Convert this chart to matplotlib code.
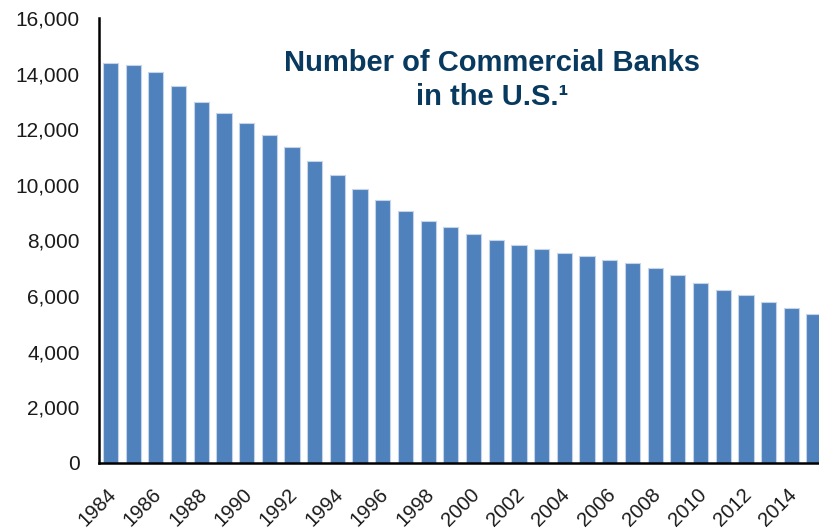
import matplotlib.pyplot as plt
import matplotlib.transforms as mtransforms
import numpy as np

years = list(range(1984, 2016))
banks = [14393, 14298, 14070, 13566, 12991, 12573, 12225, 11793,
         11350, 10870, 10366, 9863, 9456, 9061, 8701, 8496,
         8245, 8018, 7827, 7694, 7561, 7443, 7310, 7202,
         7000, 6760, 6462, 6220, 6030, 5800, 5563, 5357]
tick_years = list(range(1984, 2015, 2))

plt.rcParams['font.family'] = ['Liberation Sans', 'DejaVu Sans']

fig = plt.figure(figsize=(8.19, 5.29), dpi=100)
ax = fig.add_axes([0.121, 0.125, 0.879, 0.841])

x = np.arange(len(years))
ax.bar(x, banks, width=0.67, color='#4F81BD', edgecolor='#c6d4ea', linewidth=0.8)

ax.set_xlim(-0.5, 31.22)
ax.set_ylim(0, 16000)
ax.set_yticks(range(0, 16001, 2000))
ax.set_yticklabels([f'{v:,}' for v in range(0, 16001, 2000)], fontsize=15, color='#1a1a1a')
ax.set_xticks([years.index(y) for y in tick_years])
ax.set_xticklabels([str(y) for y in tick_years], fontsize=14.5, rotation=45,
                   ha='right', va='top', rotation_mode='anchor', color='#1a1a1a')
ax.tick_params(axis='y', length=0, pad=14)
ax.tick_params(axis='x', length=0, pad=16)

# nudge the rotated year labels a little to the left
shift = mtransforms.ScaledTranslation(-4 / 100, 0, fig.dpi_scale_trans)
for lbl in ax.get_xticklabels():
    lbl.set_transform(lbl.get_transform() + shift)

for s in ['top', 'right']:
    ax.spines[s].set_visible(False)
for s in ['left', 'bottom']:
    ax.spines[s].set_linewidth(1.8)
    ax.spines[s].set_color('black')

fig.text(0.601, 0.865, 'Number of Commercial Banks', ha='center', va='baseline',
         fontsize=21, fontweight='bold', color='#08395f')
fig.text(0.601, 0.802, 'in the U.S.¹', ha='center', va='baseline',
         fontsize=21, fontweight='bold', color='#08395f')

fig.savefig('out.png', dpi=100)
